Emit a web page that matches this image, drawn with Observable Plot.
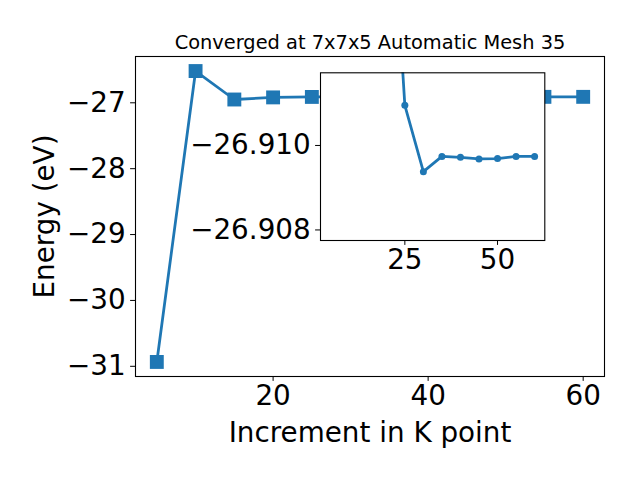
<!DOCTYPE html>
<html>
<head>
<meta charset="utf-8">
<script src="https://cdn.jsdelivr.net/npm/d3@7"></script>
<script src="https://cdn.jsdelivr.net/npm/@observablehq/plot@0.6"></script>
<style>
  html, body { margin: 0; padding: 0; background: white; }
  #wrap { position: relative; width: 640px; height: 480px; }
  #wrap svg { position: absolute; left: 0; top: 0; }
</style>
</head>
<body>
<div id="wrap"></div>
<script>
// Data
const kpoints = [5, 10, 15, 20, 25, 30, 35, 40, 45, 50, 55, 60];
const energies = [-30.934, -26.518, -26.950, -26.918, -26.91095, -26.90938, -26.90974, -26.90972, -26.90968, -26.90969, -26.90974, -26.90974];
const xTicks = [20, 40, 60];
const yTicks = [-31, -30, -29, -28, -27];
const insetXTicks = [25, 50];
const insetYTicks = [-26.910, -26.908];
const insetYDomain = [-26.90775, -26.91172]; // inverted inset axis
const title = "Converged at 7x7x5 Automatic Mesh 35";
const xLabel = "Increment in K point";
const yLabel = "Energy (eV)";

const blue = "#1f77b4";
const font = "DejaVu Sans";
const data = kpoints.map((k, i) => ({k, e: energies[i]}));
const insetData = data.slice(3);

const pad = (lo, hi) => { const r = hi - lo; return [lo - 0.05 * r, hi + 0.05 * r]; };
const xDomain = pad(d3.min(kpoints), d3.max(kpoints));
const yDomain = pad(d3.min(energies), d3.max(energies));

const main = Plot.plot({
  width: 640, height: 480,
  marginLeft: 135, marginRight: 36, marginTop: 56, marginBottom: 104,
  style: {fontFamily: font, fontSize: "27.8px", color: "black", background: "white"},
  x: {domain: xDomain},
  y: {domain: yDomain},
  marks: [
    Plot.axisX({ticks: xTicks, tickSize: 4.9, tickPadding: 4, fontSize: 27.8, label: null, tickFormat: d3.format("d")}),
    Plot.axisY({ticks: yTicks, tickSize: 4.9, tickPadding: 4.9, fontSize: 27.8, label: null, tickFormat: d => d3.format("d")(d)}),
    Plot.line(data, {x: "k", y: "e", stroke: blue, strokeWidth: 2.78}),
    Plot.dot(data, {x: "k", y: "e", symbol: "square", r: 7.84, fill: blue, stroke: "none"}),
    Plot.frame({stroke: "black", strokeWidth: 1.1}),
    Plot.text([title], {text: d => d, frameAnchor: "top", lineAnchor: "bottom", dy: -8, fontSize: 19.4, fill: "black"}),
    Plot.text([xLabel], {text: d => d, frameAnchor: "bottom", lineAnchor: "bottom", dy: 65, fontSize: 27.8, fill: "black"}),
    Plot.text([yLabel], {text: d => d, frameAnchor: "left", textAnchor: "middle", rotate: -90, dx: -90, fontSize: 27.8, fill: "black"})
  ]
});

const inset = Plot.plot({
  width: 640, height: 480,
  marginLeft: 320, marginRight: 95.7, marginTop: 72.3, marginBottom: 240,
  style: {fontFamily: font, fontSize: "27.8px", color: "black", background: "none"},
  x: {domain: xDomain},
  y: {domain: insetYDomain},
  marks: [
    Plot.frame({fill: "white", stroke: "none"}),
    Plot.axisX({ticks: insetXTicks, tickSize: 4.9, tickPadding: 4, fontSize: 27.8, label: null, tickFormat: d3.format("d")}),
    Plot.axisY({ticks: insetYTicks, tickSize: 4.9, tickPadding: 4.9, fontSize: 27.8, label: null, tickFormat: d3.format(".3f")}),
    Plot.line(insetData, {x: "k", y: "e", stroke: blue, strokeWidth: 2.78, clip: true}),
    Plot.dot(insetData, {x: "k", y: "e", r: 3.5, fill: blue, stroke: "none", clip: true}),
    Plot.frame({stroke: "black", strokeWidth: 1.1})
  ]
});

const wrap = document.getElementById("wrap");
wrap.appendChild(main);
wrap.appendChild(inset);
</script>
</body>
</html>
